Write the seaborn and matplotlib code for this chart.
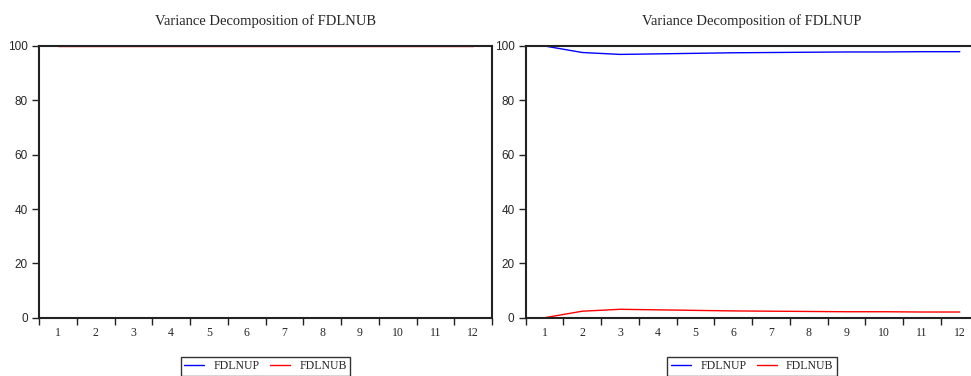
import numpy as np
import pandas as pd
import seaborn as sns
import matplotlib.pyplot as plt
from matplotlib.ticker import FixedLocator

sns.set_style("ticks")
plt.rcParams['font.family'] = ['Liberation Serif', 'DejaVu Serif']

periods = list(range(1, 13))
series_names = ["FDLNUP", "FDLNUB"]

# Variance Decomposition of FDLNUB
fdlnub_from_fdlnup = [0.0] * 12
fdlnub_from_fdlnub = [100.0] * 12

# Variance Decomposition of FDLNUP
fdlnup_from_fdlnup = [100.0, 97.6, 96.9, 97.1, 97.3, 97.5, 97.6, 97.7, 97.8, 97.8, 97.9, 97.9]
fdlnup_from_fdlnub = [0.0, 2.4, 3.1, 2.9, 2.7, 2.5, 2.4, 2.3, 2.2, 2.2, 2.1, 2.1]

titles = ["Variance Decomposition of FDLNUB", "Variance Decomposition of FDLNUP"]
panels = [
    {"FDLNUP": fdlnub_from_fdlnup, "FDLNUB": fdlnub_from_fdlnub},
    {"FDLNUP": fdlnup_from_fdlnup, "FDLNUB": fdlnup_from_fdlnub},
]

colors = {"FDLNUP": "#0000ff", "FDLNUB": "#ff0000"}

fig = plt.figure(figsize=(9.71, 3.76), dpi=100)
positions = [[0.0402, 0.155, 0.4665, 0.7227], [0.5414, 0.155, 0.4665, 0.7227]]

for pos, title, panel in zip(positions, titles, panels):
    ax = fig.add_axes(pos)
    df = pd.concat([
        pd.DataFrame({"period": periods, "value": panel[name], "series": name})
        for name in series_names
    ])
    sns.lineplot(data=df, x="period", y="value", hue="series", hue_order=series_names,
                 palette=colors, linewidth=1.0, ax=ax, legend=True)

    ax.set_xlim(0.5, 12.5)
    ax.set_ylim(0, 100)
    ax.set_xlabel("")
    ax.set_ylabel("")

    # ticks between periods, labels at periods
    ax.xaxis.set_major_locator(FixedLocator(np.arange(1, 13)))
    ax.xaxis.set_minor_locator(FixedLocator(np.arange(0.5, 13, 1)))
    ax.tick_params(axis="x", which="major", length=0, pad=7, labelsize=8.5)
    ax.tick_params(axis="x", which="minor", length=5, width=1, direction="out", color="#222222")
    ax.set_xticklabels([str(p) for p in periods])

    ax.set_yticks([0, 20, 40, 60, 80, 100])
    ax.tick_params(axis="y", length=5, width=1, direction="out", pad=3, labelsize=8.5, color="#222222")
    for lab in ax.get_yticklabels():
        lab.set_family("Liberation Sans")

    for side in ["left", "top", "right", "bottom"]:
        ax.spines[side].set_visible(True)
        ax.spines[side].set_color("#222222")
        ax.spines[side].set_linewidth(1.5)

    ax.set_title(title, fontsize=10.5, pad=15)

    leg = ax.legend(loc="upper center", bbox_to_anchor=(0.5, -0.143), ncol=2,
                    fontsize=8.5, frameon=True, fancybox=False, handlelength=1.7,
                    handletextpad=0.8, columnspacing=0.85, borderpad=0.3,
                    borderaxespad=0)
    leg.get_frame().set_edgecolor("black")
    leg.get_frame().set_linewidth(1.0)
    leg.set_title(None)

fig.savefig("out.png", dpi=100)
